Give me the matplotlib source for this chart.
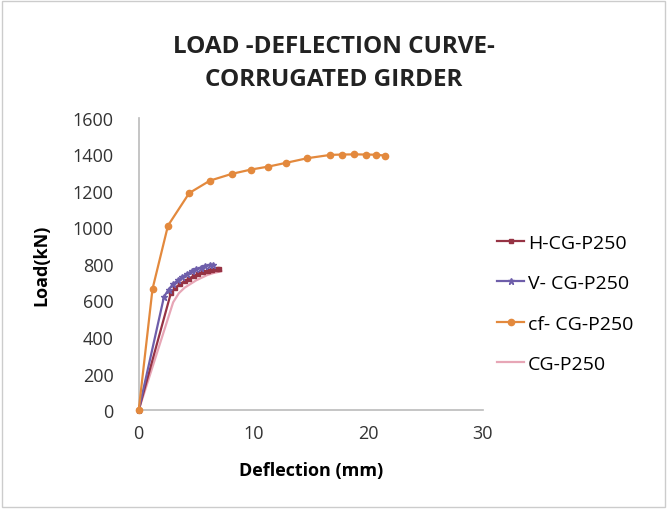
import matplotlib
matplotlib.use("Agg")
import matplotlib.pyplot as plt

# deflection (mm) / load (kN)
h_x = [0, 2.8, 3.2, 3.6, 4.0, 4.4, 4.8, 5.2, 5.6, 6.0, 6.4, 6.8, 7.0]
h_y = [0, 640, 670, 690, 705, 720, 735, 745, 755, 762, 768, 772, 772]
v_x = [0, 2.2, 2.6, 3.0, 3.4, 3.8, 4.2, 4.6, 5.0, 5.4, 5.8, 6.2, 6.5]
v_y = [0, 620, 660, 690, 710, 730, 745, 760, 770, 780, 790, 795, 795]
cf_x = [0, 1.2, 2.55, 4.4, 6.2, 8.1, 9.8, 11.3, 12.8, 14.7, 16.7, 17.7, 18.8, 19.8, 20.7, 21.5]
cf_y = [0, 663, 1010, 1188, 1256, 1293, 1317, 1333, 1353, 1379, 1397, 1399, 1400, 1399, 1398, 1393]
cg_x = [0, 3.0, 3.5, 4.0, 4.5, 5.0, 5.5, 6.0, 6.5, 7.2]
cg_y = [0, 590, 640, 670, 690, 710, 725, 740, 750, 760]

labels = ["H-CG-P250", "V- CG-P250", "cf- CG-P250", "CG-P250"]

plt.rcParams['font.family'] = ['Open Sans', 'DejaVu Sans']

fig = plt.figure(figsize=(6.67, 5.1), dpi=100)
ax = fig.add_axes([0.208, 0.194, 0.516, 0.573])

ax.plot(h_x, h_y, color="#963344", marker="s", markersize=3.5, lw=1.6, label=labels[0], zorder=3)
ax.plot(v_x, v_y, color="#6E5EAA", marker="*", markersize=5, lw=1.6, label=labels[1], zorder=4)
ax.plot(cf_x, cf_y, color="#E3893D", marker="o", markersize=4.5, lw=1.6, label=labels[2], zorder=5)
ax.plot(cg_x, cg_y, color="#E7A6B6", lw=1.6, label=labels[3], zorder=2)

ax.set_xlim(0, 30)
ax.set_ylim(0, 1600)
ax.set_xticks([0, 10, 20, 30])
ax.set_yticks(range(0, 1601, 200))
ax.tick_params(length=0, labelsize=13, colors="#333333")
ax.tick_params(axis="y", pad=18)
ax.tick_params(axis="x", pad=10)
for s in ["top", "right"]:
    ax.spines[s].set_visible(False)
for s in ["left", "bottom"]:
    ax.spines[s].set_color("#BBBBBB")
    ax.spines[s].set_linewidth(1.2)
for ln in ax.lines:
    ln.set_clip_on(False)

ax.set_xlabel("Deflection (mm)", fontsize=13, fontweight="bold", labelpad=14)
ax.set_ylabel("Load(kN)", fontsize=13, fontweight="bold", labelpad=16)

fig.text(0.5, 0.875, "LOAD -DEFLECTION CURVE-\nCORRUGATED GIRDER", ha="center", va="center",
         fontsize=17.5, fontweight="bold", linespacing=1.5, color="#222222")

ax.legend(loc="center left", bbox_to_anchor=(0.99, 0.365), frameon=False, fontsize=14,
          handlelength=1.4, handletextpad=0.2, labelspacing=1.15)

fig.patches.append(plt.Rectangle((0.003, 0.003), 0.994, 0.994, transform=fig.transFigure,
                                 fill=False, edgecolor="#CCCCCC", lw=1))

fig.savefig("out.png", dpi=100)
